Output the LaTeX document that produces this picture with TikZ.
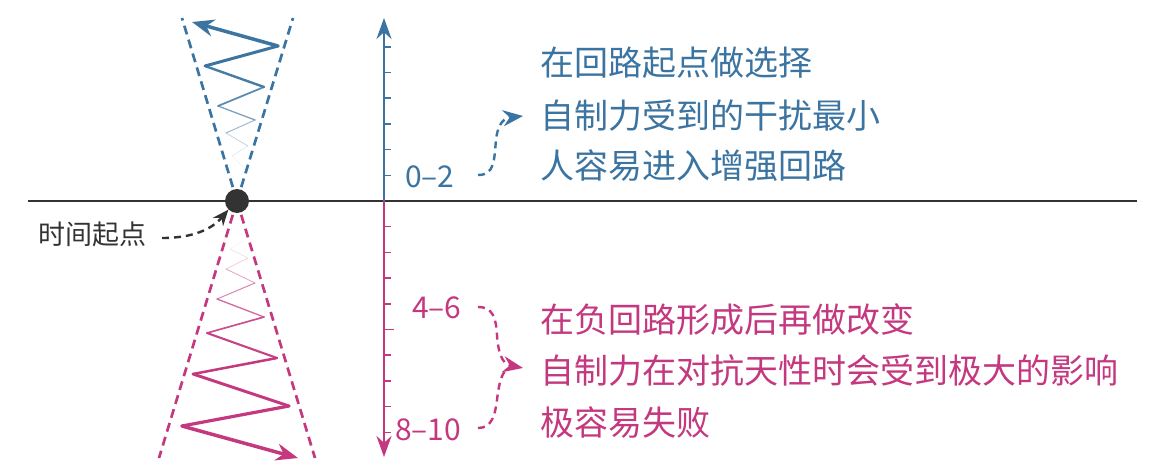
\documentclass[tikz,border=0pt]{standalone}
\usepackage{fontspec}
\setmainfont{Noto Sans CJK SC}
\usetikzlibrary{arrows.meta}
\definecolor{myblue}{HTML}{3B74A0}
\definecolor{mymag}{HTML}{C4387F}
\definecolor{mydark}{HTML}{333333}
\tikzset{
  txt/.style={inner sep=0pt, anchor=base west, font=\fontsize{34}{40}\selectfont},
  lbl/.style={inner sep=0pt, anchor=base west, font=\fontsize{27}{32}\selectfont, text=mydark},
  num/.style={inner sep=0pt, anchor=base west, font=\fontsize{30}{36}\selectfont},
  conestyle/.style={line width=2.7pt, dash pattern=on 9pt off 5.5pt},
  axisline/.style={line width=2.7pt},
  tickline/.style={line width=1.5pt},
  connector/.style={line width=2.4pt, dash pattern=on 7pt off 5pt},
  bigtip/.style={-{Stealth[length=20pt,width=16pt]}},
  zz/.style={line cap=round, line join=round},
}
\begin{document}
\begin{tikzpicture}[x=1pt,y=-1pt]
\useasboundingbox (0,0) rectangle (1164,471);

% base line
\coordinate (hl) at (28,201);
\coordinate (hr) at (1137,201);
\draw[line width=2.8pt, mydark] (hl) -- (hr);

% origin and cones
\coordinate (o) at (237,201);
\coordinate (tl) at (182,18);
\coordinate (tr) at (293,18);
\coordinate (bl) at (159,458);
\coordinate (br) at (315,458);
\draw[conestyle, myblue] (o) -- (tl);
\draw[conestyle, myblue] (o) -- (tr);
\draw[conestyle, mymag] (o) -- (bl);
\draw[conestyle, mymag] (o) -- (br);

% top zigzag
\coordinate (t0) at (243,167);
\coordinate (t1) at (232,156);
\coordinate (t2) at (248,146);
\coordinate (t3) at (226,133);
\coordinate (t4) at (255,120);
\coordinate (t5) at (218,106);
\coordinate (t6) at (264,87);
\coordinate (t7) at (205,66);
\coordinate (t8) at (278,46);
\coordinate (t9) at (192,22);
\draw[zz, line width=0.4pt, myblue!10] (t0) -- (t1);
\draw[zz, line width=0.5pt, myblue!20] (t1) -- (t2);
\draw[zz, line width=0.7pt, myblue!35] (t2) -- (t3);
\draw[zz, line width=1.0pt, myblue!50] (t3) -- (t4);
\draw[zz, line width=1.3pt, myblue!68] (t4) -- (t5);
\draw[zz, line width=1.8pt, myblue!82] (t5) -- (t6);
\draw[zz, line width=2.4pt, myblue!94] (t6) -- (t7);
\draw[zz, line width=3.0pt, myblue] (t7) -- (t8);
\draw[zz, line width=3.5pt, myblue, -{Stealth[length=22pt,width=17pt]}] (t8) -- (t9);

% bottom zigzag
\coordinate (b0) at (243,241);
\coordinate (b1) at (230,249);
\coordinate (b2) at (248,258);
\coordinate (b3) at (226,269);
\coordinate (b4) at (255,283);
\coordinate (b5) at (217,299);
\coordinate (b6) at (264,317);
\coordinate (b7) at (207,333);
\coordinate (b8) at (277,358);
\coordinate (b9) at (193,374);
\coordinate (b10) at (289,406);
\coordinate (b11) at (182,426);
\coordinate (b12) at (298,458);
\draw[zz, line width=0.4pt, mymag!10] (b0) -- (b1);
\draw[zz, line width=0.5pt, mymag!20] (b1) -- (b2);
\draw[zz, line width=0.6pt, mymag!32] (b2) -- (b3);
\draw[zz, line width=0.8pt, mymag!48] (b3) -- (b4);
\draw[zz, line width=1.0pt, mymag!62] (b4) -- (b5);
\draw[zz, line width=1.3pt, mymag!76] (b5) -- (b6);
\draw[zz, line width=1.7pt, mymag!88] (b6) -- (b7);
\draw[zz, line width=2.1pt, mymag!95] (b7) -- (b8);
\draw[zz, line width=2.5pt, mymag] (b8) -- (b9);
\draw[zz, line width=2.9pt, mymag] (b9) -- (b10);
\draw[zz, line width=3.2pt, mymag] (b10) -- (b11);
\draw[zz, line width=3.5pt, mymag, -{Stealth[length=22pt,width=17pt]}] (b11) -- (b12);

% origin dot
\node[circle, fill=mydark, minimum size=24pt, inner sep=0pt] (dot) at (o) {};

% label for origin
\node[lbl] (startlbl) at (38,244) {时间起点};
\coordinate (sa) at (162,238);
\draw[connector, mydark, -{Stealth[length=16pt,width=13pt]}] (sa) .. controls (195,238) and (213,228) .. (dot.south west);

% axis
\coordinate (ax) at (384,201);
\coordinate (axtop) at (384,18);
\coordinate (axbot) at (384,457);
\draw[axisline, myblue, -{Stealth[length=21pt,width=15pt]}] (ax) -- (axtop);
\draw[axisline, mymag, -{Stealth[length=21pt,width=15pt]}] (ax) -- (axbot);
\foreach \k in {1,...,6} {
  \draw[tickline, myblue] (384,201-25.7*\k) -- (391,201-25.7*\k);
}
\foreach \k in {1,2,3,4,6,7,8,9} {
  \draw[tickline, mymag] (384,201+25.7*\k) -- (391,201+25.7*\k);
}
\draw[tickline, mymag] (384,329.5) -- (394,329.5);

% axis labels
\node[num, text=myblue] (n02) at (405,187) {0–2};
\node[num, text=mymag] (n46) at (412,318) {4–6};
\node[num, text=mymag] (n810) at (395,440) {8–10};

% blue connector
\coordinate (bs) at (478,175);
\coordinate (be) at (523,116);
\draw[connector, myblue, bigtip] (bs) .. controls (495,175) and (494,160) .. (496,140) .. controls (498,122) and (505,118) .. (be);

% magenta brace connector
\coordinate (ms1) at (478,307);
\coordinate (ms2) at (478,428);
\coordinate (me) at (523,368);
\draw[connector, mymag, bigtip] (ms1) .. controls (493,307) and (496,318) .. (497,335) .. controls (498,352) and (502,364) .. (me);
\draw[connector, mymag] (ms2) .. controls (492,428) and (495,415) .. (497,400) .. controls (499,382) and (502,374) .. (506,370);

% blue text
\node[txt, text=myblue] (bt1) at (540,75) {在回路起点做选择};
\node[txt, text=myblue] (bt2) at (540,128) {自制力受到的干扰最小};
\node[txt, text=myblue] (bt3) at (540,178) {人容易进入增强回路};

% magenta text
\node[txt, text=mymag] (mt1) at (540,332) {在负回路形成后再做改变};
\node[txt, text=mymag] (mt2) at (540,383) {自制力在对抗天性时会受到极大的影响};
\node[txt, text=mymag] (mt3) at (540,435) {极容易失败};
\end{tikzpicture}
\end{document}
